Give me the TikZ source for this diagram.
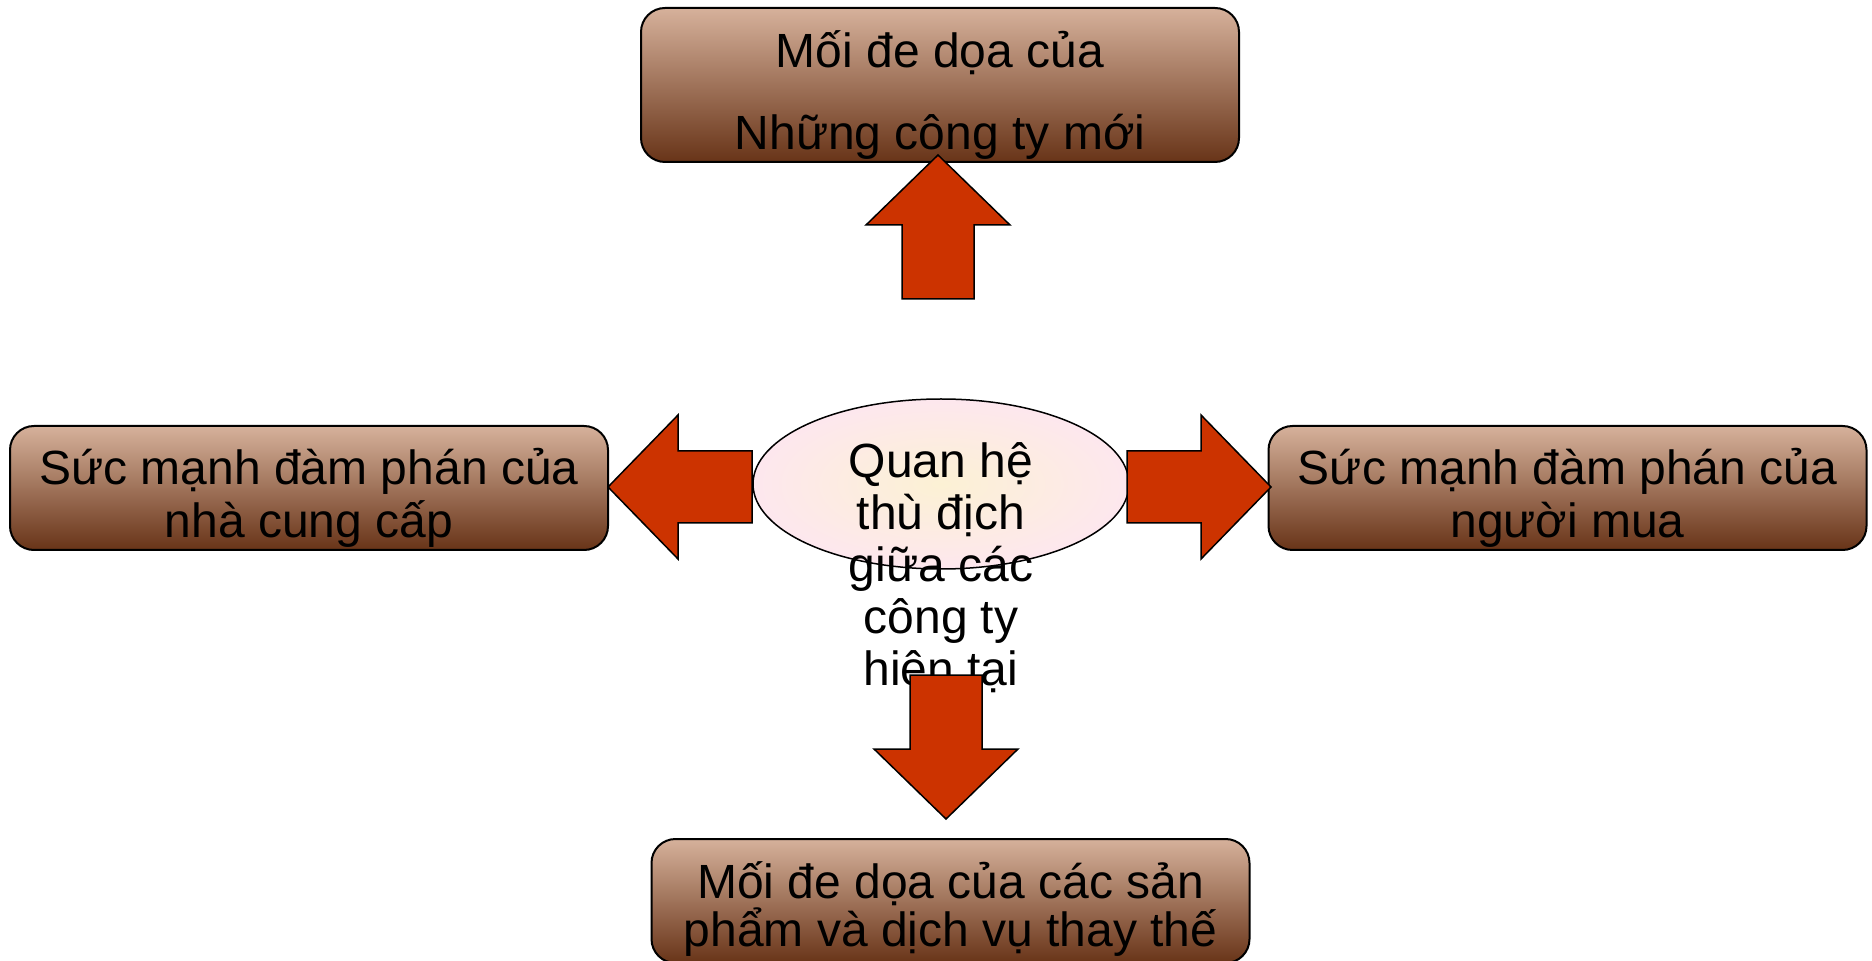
\documentclass[tikz,border=0pt]{standalone}
\usepackage{fontspec}
\setmainfont{Liberation Sans}
\usepackage{tikz}
\usetikzlibrary{shapes.geometric}

\definecolor{boxtop}{RGB}{214,177,155}
\definecolor{boxbottom}{RGB}{104,52,24}
\definecolor{arrowred}{RGB}{204,51,0}
\definecolor{rivalout}{RGB}{253,231,238}
\definecolor{rivalin}{RGB}{252,241,212}

\begin{document}
\begin{tikzpicture}[x=0.5pt, y=-0.5pt]
    \tikzstyle{force}=[draw, line width=1pt, rounded corners=12pt, top color=boxtop, bottom color=boxbottom, minimum width=299pt, minimum height=62pt, inner sep=0pt, align=center, font=\fontsize{24pt}{26.5pt}\selectfont, text height=55.6pt, text depth=6pt]
    \tikzstyle{bigarrow}=[draw, line width=0.75pt, fill=arrowred, line join=miter]

    \useasboundingbox (0, 0) rectangle (1872, 961);

    \node[ellipse, draw, line width=0.75pt, inner color=rivalin, outer color=rivalout, minimum width=188pt, minimum height=85pt] (rivalry) at (941, 484) {};
    \node[align=center, font=\fontsize{24pt}{26pt}\selectfont] (rivalrytext) at (941, 567.5) {Quan hệ\\thù địch\\giữa các\\công ty\\hiện tại};

    \node[force, minimum height=77pt, text height=70.6pt] (entrants) at (940, 85) {Mối đe dọa của\\[14.5pt]Những công ty mới};
    \node[force] (suppliers) at (309, 488) {Sức mạnh đàm phán của\\nhà cung cấp};
    \node[force] (buyers) at (1567.5, 488) {Sức mạnh đàm phán của\\người mua};
    \node[force, font=\fontsize{24pt}{24pt}\selectfont, text height=51.6pt] (substitutes) at (950.5, 901) {Mối đe dọa của các sản\\phẩm và dịch vụ thay thế};

    \foreach \x/\y/\r in {938/155/90, 608/487/180, 1271/487/0, 946/819/-90}
        \draw[bigarrow, shift={(\x, \y)}, rotate=\r] (0, 0) -- (-70, -72) -- (-70, -36) -- (-144, -36) -- (-144, 36) -- (-70, 36) -- (-70, 72) -- cycle;
\end{tikzpicture}
\end{document}
